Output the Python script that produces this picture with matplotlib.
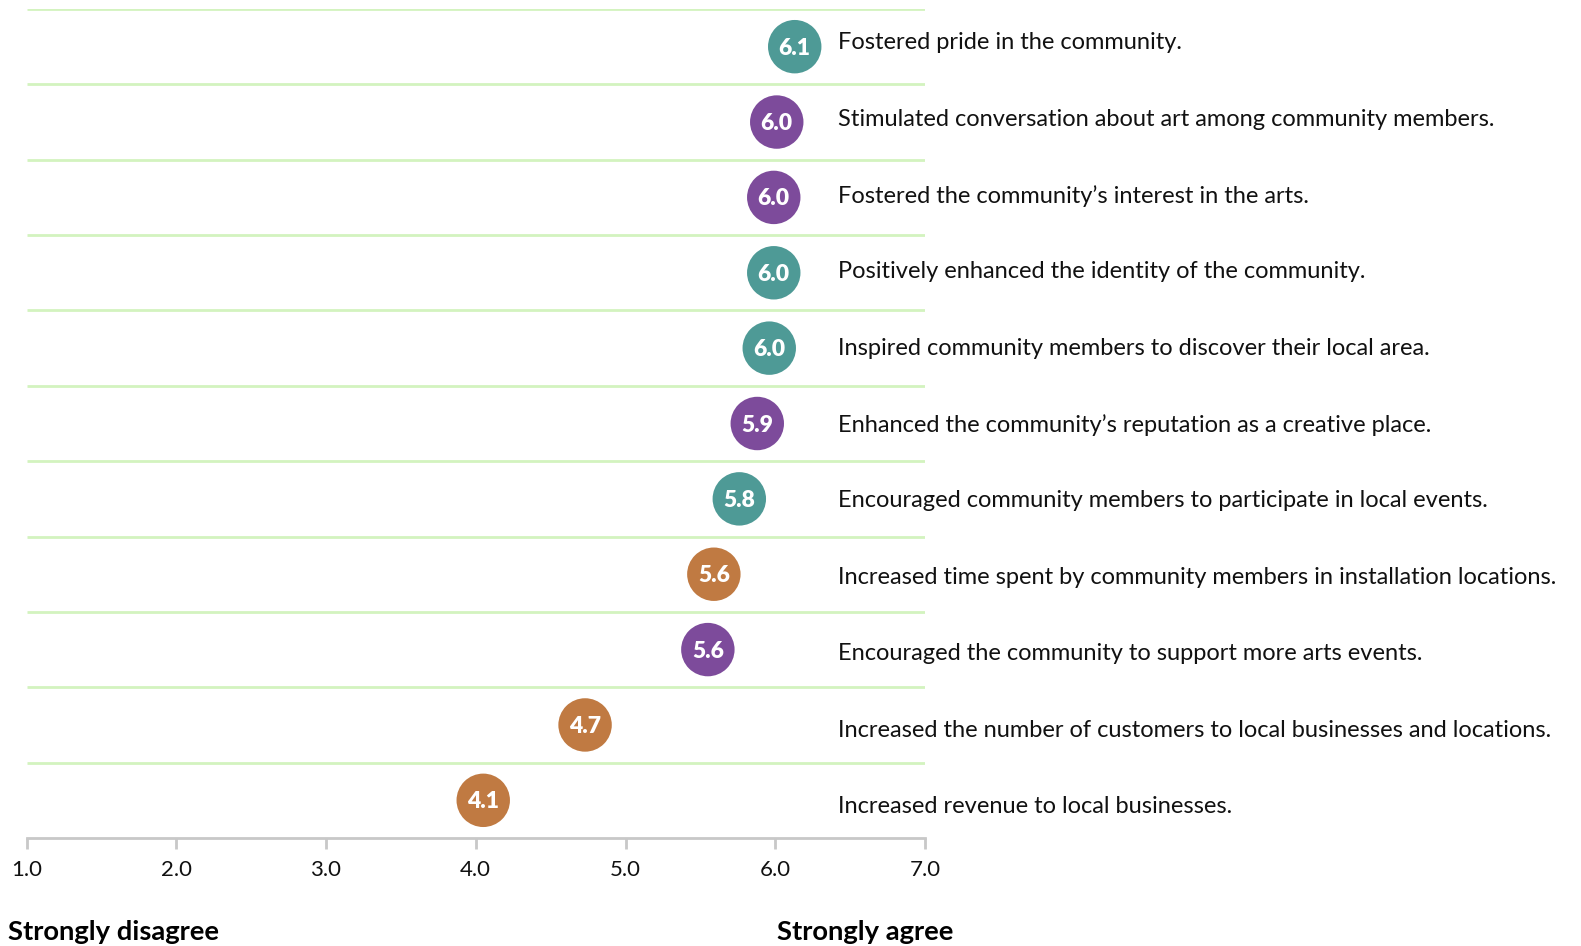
import numpy as np
import matplotlib.pyplot as plt
from matplotlib.transforms import blended_transform_factory

plt.rcParams['font.family'] = ['Lato', 'DejaVu Sans']

# Daten (von oben nach unten)
statements = [
    "Fostered pride in the community.",
    "Stimulated conversation about art among community members.",
    "Fostered the community\u2019s interest in the arts.",
    "Positively enhanced the identity of the community.",
    "Inspired community members to discover their local area.",
    "Enhanced the community\u2019s reputation as a creative place.",
    "Encouraged community members to participate in local events.",
    "Increased time spent by community members in installation locations.",
    "Encouraged the community to support more arts events.",
    "Increased the number of customers to local businesses and locations.",
    "Increased revenue to local businesses.",
]
scores = [6.13, 6.01, 5.99, 5.99, 5.96, 5.88, 5.76, 5.59, 5.55, 4.73, 4.05]
score_labels = ["6.1", "6.0", "6.0", "6.0", "6.0", "5.9", "5.8", "5.6", "5.6",
                "4.7", "4.1"]
groups = ["social", "arts", "arts", "social", "social", "arts", "social",
          "economic", "arts", "economic", "economic"]

colors = {"social": "#4E9A96", "arts": "#7D4B9B", "economic": "#C07A42"}

fig = plt.figure(figsize=(15.81, 9.46), dpi=100)
ax = fig.add_axes([26.5 / 1581, 108 / 946, 898.5 / 1581, 829 / 946])

n = len(statements)
ypos = np.arange(n)[::-1]

# Trennlinien
ax.hlines(np.arange(n) + 0.5, 1, 7, color="#D3F3BF", linewidth=2, zorder=1)

ax.scatter(scores, ypos, s=1480, c=[colors[g] for g in groups],
           edgecolors="none", zorder=3, clip_on=False)

for s, lab, y in zip(scores, score_labels, ypos):
    ax.text(s, y - 0.02, lab, color="white", fontsize=16.5,
            fontweight="heavy", ha="center", va="center", zorder=4)

# Beschriftungen rechts, leicht gespreizt wie im Original
trans = blended_transform_factory(ax.transAxes, ax.transData)
for i, (txt, y) in enumerate(zip(statements, ypos)):
    dy = 0.05 - 0.13 * i / (n - 1)
    ax.text(0.903, y + dy, txt, transform=trans, fontsize=17,
            ha="left", va="center", color="#111111", clip_on=False)

ax.set_xlim(1, 7)
ax.set_ylim(-0.5, n - 0.5)
ax.set_xticks(np.arange(1, 8))
ax.set_xticklabels([f"{v:.1f}" for v in np.arange(1, 8)], fontsize=16)
ax.set_yticks([])
for sp in ["top", "right", "left"]:
    ax.spines[sp].set_visible(False)
ax.spines["bottom"].set_color("#C8C8C8")
ax.spines["bottom"].set_linewidth(2)
ax.tick_params(axis="x", length=8, width=2, color="#C8C8C8", pad=8,
               labelcolor="#111111")

fig.text(8 / 1581, 1 - 932 / 946, "Strongly disagree", fontsize=19.7,
         fontweight="bold", ha="left", va="center")
fig.text(777 / 1581, 1 - 932 / 946, "Strongly agree", fontsize=19.7,
         fontweight="bold", ha="left", va="center")

fig.savefig("out.png", dpi=100)
